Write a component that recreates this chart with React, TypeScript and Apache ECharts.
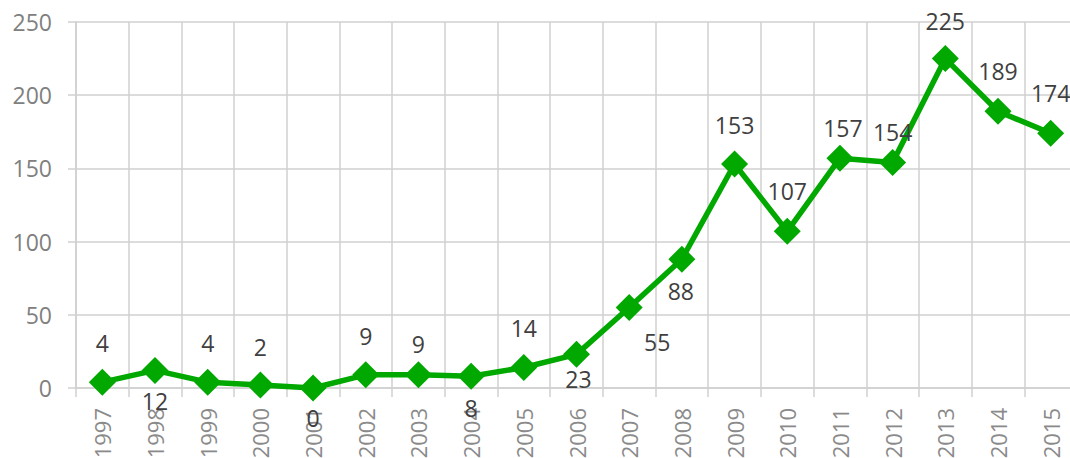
import React, { useEffect, useRef } from "react";
import * as echarts from "echarts";

const years = ["1997","1998","1999","2000","2001","2002","2003","2004","2005","2006","2007","2008","2009","2010","2011","2012","2013","2014","2015"];
const counts = [4, 12, 4, 2, 0, 9, 9, 8, 14, 23, 55, 88, 153, 107, 157, 154, 225, 189, 174];
// label offsets relative to each marker centre
const labelOffsets: [number, number][] = [
  [0, -39], [0, 31], [0, -39], [0, -38], [0, 30], [0, -39], [0, -31], [0, 32], [0, -40], [2, 25],
  [28, 35], [-1, 32], [0, -39], [0, -40], [3, -30], [0, -31], [0, -38], [0, -40], [0, -40],
];

const FONT = "'Open Sans', 'Noto Sans', sans-serif";
const GRID = "#d0d0d0";

export default function App() {
  const ref = useRef<HTMLDivElement>(null);
  useEffect(() => {
    document.body.style.margin = "0";
    document.body.style.overflow = "hidden";
    const chart = echarts.init(ref.current!, undefined, { renderer: "svg" });
    chart.setOption({
      animation: false,
      grid: { left: 76, top: 22, bottom: 70, right: 0, containLabel: false, outerBoundsMode: "none" },
      xAxis: {
        type: "category",
        data: years,
        boundaryGap: true,
        axisLine: { show: true, lineStyle: { color: GRID, width: 1.5 } },
        axisTick: { show: true, length: 9, lineStyle: { color: GRID, width: 1.5 } },
        splitLine: { show: true, lineStyle: { color: GRID, width: 1.5 } },
        axisLabel: { rotate: 90, margin: 20, color: "#8a8a8a", fontSize: 22, fontFamily: FONT, interval: 0 },
      },
      yAxis: {
        type: "value",
        min: 0,
        max: 250,
        interval: 50,
        axisLine: { show: true, lineStyle: { color: GRID, width: 1.5 } },
        axisTick: { show: true, length: 8, lineStyle: { color: GRID, width: 1.5 } },
        splitLine: { show: true, lineStyle: { color: GRID, width: 1.5 } },
        axisLabel: { margin: 24, color: "#808080", fontSize: 23, fontFamily: FONT },
      },
      series: [
        {
          type: "line",
          data: counts.map((v, i) => ({
            value: v,
            label: { offset: labelOffsets[i] },
          })),
          symbol: "diamond",
          symbolSize: 27,
          lineStyle: { color: "#00a800", width: 5.5 },
          itemStyle: { color: "#00a800" },
          label: {
            show: true,
            position: "inside",
            color: "#404040",
            fontSize: 23,
            fontFamily: FONT,
          },
        },
      ],
    });
    return () => chart.dispose();
  }, []);
  return <div ref={ref} style={{ position: "absolute", left: 0, top: 0, width: 1077, height: 458 }} />;
}
